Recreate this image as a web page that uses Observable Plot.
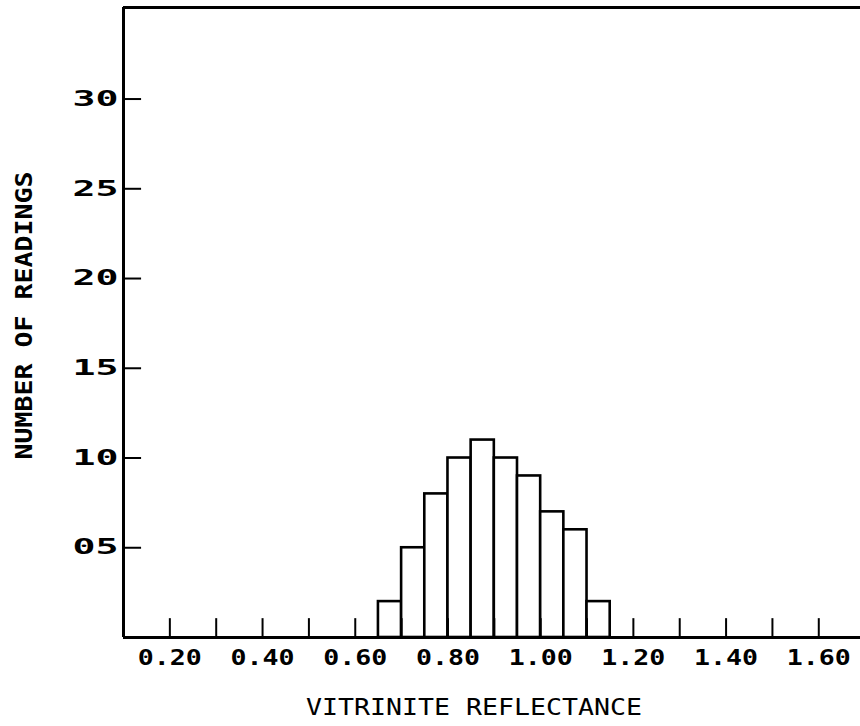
<!DOCTYPE html>
<html>
<head>
<meta charset="utf-8">
<script src="https://cdn.jsdelivr.net/npm/d3@7"></script>
<script src="https://cdn.jsdelivr.net/npm/@observablehq/plot@0.6"></script>
<style>
  html, body { margin: 0; padding: 0; background: #fff; }
  #chart { width: 860px; height: 726px; }
</style>
</head>
<body>
<div id="chart"></div>
<script>
// Histogram of vitrinite reflectance readings (bin width 0.05)
const binStarts = [0.65, 0.70, 0.75, 0.80, 0.85, 0.90, 0.95, 1.00, 1.05, 1.10];
const counts    = [2, 5, 8, 10, 11, 10, 9, 7, 6, 2];
const binWidth = 0.05;

const xTickValues  = [0.2, 0.3, 0.4, 0.5, 0.6, 0.7, 0.8, 0.9, 1.0, 1.1, 1.2, 1.3, 1.4, 1.5, 1.6];
const xLabelValues = [0.2, 0.4, 0.6, 0.8, 1.0, 1.2, 1.4, 1.6];
const yTickValues  = [5, 10, 15, 20, 25, 30];

const xTitle = "VITRINITE REFLECTANCE";
const yTitle = "NUMBER OF READINGS";

const bins = binStarts.map((x0, i) => ({x0, x1: x0 + binWidth, count: counts[i]}));

const xMin = 0.1, xMax = 1.69, yMax = 35.1;
const tickLenX = 0.039; // inward y-tick length, in x units
const tickLenY = 1.05;  // inward x-tick length, in y units

const chart = Plot.plot({
  width: 860,
  height: 726,
  marginLeft: 123,
  marginRight: 0,
  marginTop: 7,
  marginBottom: 89,
  style: {fontFamily: "DejaVu Sans Mono", background: "#fff", color: "#000"},
  x: {domain: [xMin, xMax], axis: null},
  y: {domain: [0, yMax], axis: null},
  marks: [
    Plot.rectY(bins, {x1: "x0", x2: "x1", y: "count", fill: "#fff", stroke: "#000", strokeWidth: 2.6}),
    // inward tick marks
    Plot.ruleX(xTickValues, {x: d => d, y1: 0, y2: tickLenY, stroke: "#000", strokeWidth: 2}),
    Plot.ruleY(yTickValues, {y: d => d, x1: xMin, x2: xMin + tickLenX, stroke: "#000", strokeWidth: 2}),
    // frame: bottom, left, top (open on the right)
    Plot.ruleY([0], {stroke: "#000", strokeWidth: 3}),
    Plot.ruleX([xMin], {stroke: "#000", strokeWidth: 3}),
    Plot.ruleY([yMax], {stroke: "#000", strokeWidth: 3}),
    // tick labels
    Plot.text(xLabelValues, {
      x: d => d, y: 0, text: d => d.toFixed(2),
      lineAnchor: "top", dy: 13, fontSize: 21, fontWeight: "bold",
      ariaDescription: "xtick-label"
    }),
    Plot.text(yTickValues, {
      x: xMin, y: d => d, text: d => String(d).padStart(2, "0"),
      textAnchor: "end", dx: -5, fontSize: 21, fontWeight: "bold",
      ariaDescription: "ytick-label"
    }),
    // axis titles
    Plot.text([xTitle], {
      frameAnchor: "bottom", text: d => d, lineAnchor: "top", textAnchor: "middle",
      dx: -18, dy: 61, fontSize: 23, ariaDescription: "x-title"
    }),
    Plot.text([yTitle], {
      frameAnchor: "left", text: d => d, rotate: -90, textAnchor: "middle",
      dx: -99, dy: -7, fontSize: 23, fontWeight: "bold", ariaDescription: "y-title"
    })
  ]
});

// widen the plotter-style lettering
const widen = (desc, len) =>
  d3.select(chart).selectAll(`g[aria-description="${desc}"] text`)
    .attr("textLength", len).attr("lengthAdjust", "spacingAndGlyphs");
widen("xtick-label", 64);
widen("ytick-label", 46);
widen("x-title", 336);
widen("y-title", 288);

document.getElementById("chart").appendChild(chart);
</script>
</body>
</html>
